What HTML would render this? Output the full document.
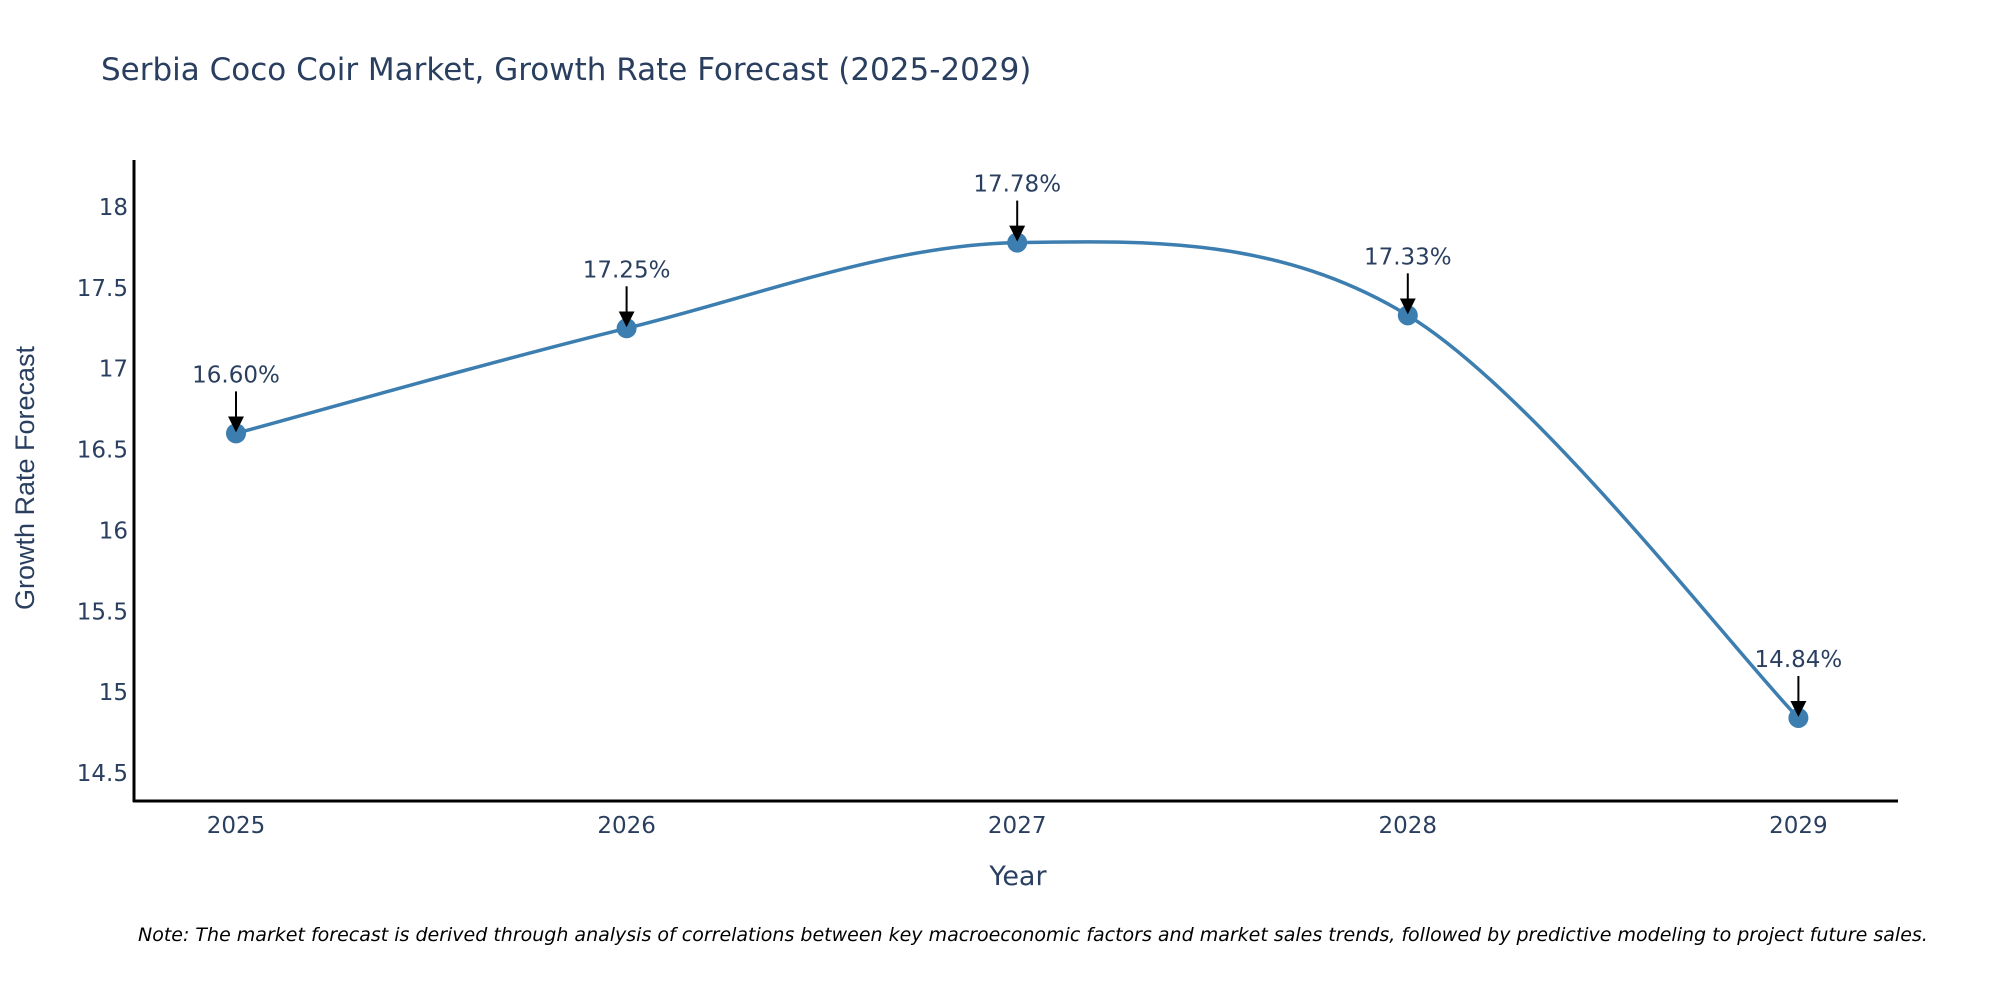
<!DOCTYPE html>
<html><head><meta charset="utf-8"><style>
body{margin:0;background:#fff;overflow:hidden;}
svg{display:block;font-family:"DejaVu Sans","Liberation Sans",sans-serif;}
</style></head><body>
<svg id="chart" width="2000" height="1000" viewBox="0 0 2000 1000">
<text x="101" y="80" font-size="31" fill="#2a3f5f">Serbia Coco Coir Market, Growth Rate Forecast (2025-2029)</text>
<g id="yticks"></g>
<g id="xticks"></g>
<line x1="134" y1="160" x2="134" y2="802" stroke="#000" stroke-width="3"/>
<line x1="133" y1="801" x2="1898" y2="801" stroke="#000" stroke-width="3"/>
<text transform="translate(34,478) rotate(-90)" text-anchor="middle" font-size="27" fill="#2a3f5f" font-family="Liberation Sans, sans-serif">Growth Rate Forecast</text>
<text x="1018" y="885" text-anchor="middle" font-size="27" fill="#2a3f5f">Year</text>
<g id="series"></g>
<text x="138" y="941" font-size="19" font-style="italic" fill="#000">Note: The market forecast is derived through analysis of correlations between key macroeconomic factors and market sales trends, followed by predictive modeling to project future sales.</text>
<defs><marker id="ah" markerWidth="16" markerHeight="16" refX="14" refY="8" orient="auto" markerUnits="userSpaceOnUse" viewBox="0 0 16 16"><path d="M0,0 L16,8 L0,16 z" fill="#000"/></marker></defs>
</svg>
<script>
const years = [2025, 2026, 2027, 2028, 2029];
const values = [16.60, 17.25, 17.78, 17.33, 14.84];
const yTickValues = [14.5, 15, 15.5, 16, 16.5, 17, 17.5, 18];
const yTickLabels = ["14.5", "15", "15.5", "16", "16.5", "17", "17.5", "18"];
const xTickLabels = ["2025", "2026", "2027", "2028", "2029"];

const NS = "http://www.w3.org/2000/svg";
function xs(v){ return 236 + (v - 2025) * 390.6; }
function ys(v){ return 207 + (18 - v) * 161.7; }
function mk(tag, attrs, parent){ const e=document.createElementNS(NS,tag); for(const k in attrs) e.setAttribute(k,attrs[k]); parent.appendChild(e); return e; }

const yg=document.getElementById('yticks');
yTickValues.forEach((v,i)=>{
  const t=mk('text',{x:128,y:ys(v)+8,'text-anchor':'end','font-size':23,fill:'#2a3f5f'},yg);
  
  
  t.textContent=yTickLabels[i];
});
const xg=document.getElementById('xticks');
years.forEach((v,i)=>{
  const t=mk('text',{x:xs(v),y:833,'text-anchor':'middle','font-size':23,fill:'#2a3f5f'},xg);
  
  
  t.textContent=xTickLabels[i];
});

const sg=document.getElementById('series');
const pts=years.map((y,i)=>[xs(y),ys(values[i])]);
let d='M'+pts[0][0]+','+pts[0][1];
const k=0.33;
for(let i=0;i<pts.length-1;i++){
  const p0=pts[Math.max(0,i-1)],p1=pts[i],p2=pts[i+1],p3=pts[Math.min(pts.length-1,i+2)];
  const c1=[p1[0]+(p2[0]-p0[0])*k/2,p1[1]+(p2[1]-p0[1])*k/2];
  const c2=[p2[0]-(p3[0]-p1[0])*k/2,p2[1]-(p3[1]-p1[1])*k/2];
  d+=' C'+c1[0]+','+c1[1]+' '+c2[0]+','+c2[1]+' '+p2[0]+','+p2[1];
}
const line=mk('path',{d:d,fill:'none',stroke:'#3d7eb0','stroke-width':3.5},sg);


pts.forEach((p,i)=>{
  const c=mk('circle',{cx:p[0],cy:p[1],r:10,fill:'#3d7eb0'},sg);
  
  
  const a=mk('line',{x1:p[0],y1:p[1]-42,x2:p[0],y2:p[1]-3,stroke:'#000','stroke-width':2,'marker-end':'url(#ah)'},sg);
  
  
  const t=mk('text',{x:p[0],y:p[1]-51,'text-anchor':'middle','font-size':23,fill:'#2a3f5f'},sg);
  
  
  t.textContent=values[i].toFixed(2)+'%';
});
</script>
</body></html>
